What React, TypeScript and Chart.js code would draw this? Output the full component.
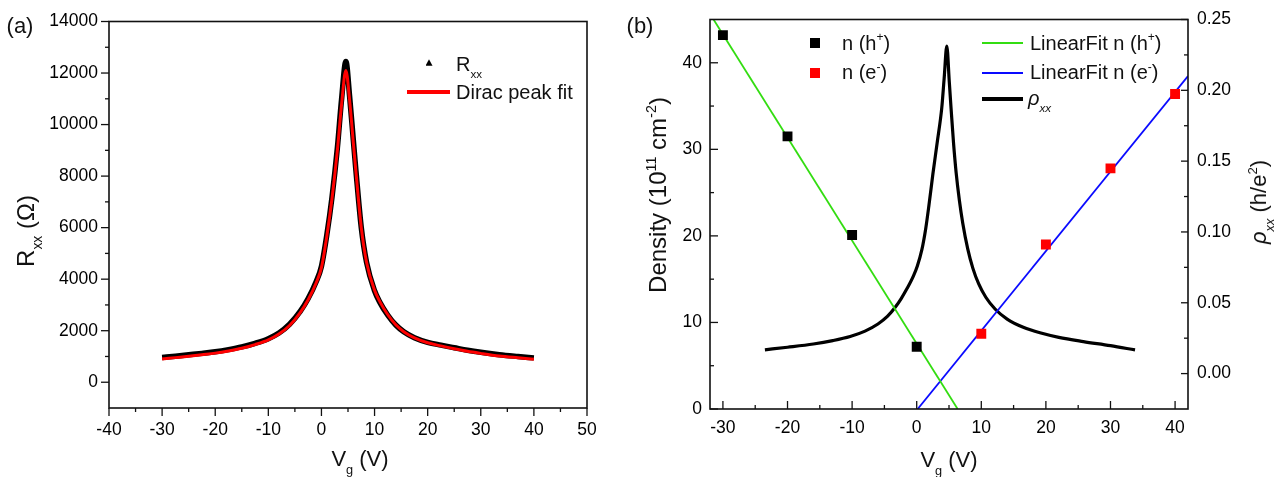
import React, { useEffect, useRef } from 'react';
import { Chart, registerables } from 'chart.js';

Chart.register(...registerables);

const FONT = "'Liberation Sans', Arial, sans-serif";

// ---------- Panel (a) data ----------
const vgA = [-30, -27.5, -25, -22.5, -20, -17.5, -15, -12.5, -10, -8, -6, -4, -2.5, -1, 0, 1, 2, 3, 3.8, 4.6, 5.3, 6, 6.5, 7.5, 8.5, 10, 11, 12.5, 14, 15.5, 17.5, 20, 22.5, 25, 27.5, 30, 33.5, 37, 40];
const rxxMeasured = [960, 1010, 1065, 1120, 1180, 1265, 1370, 1510, 1690, 1910, 2250, 2750, 3250, 3900, 4500, 5700, 7200, 9100, 11000, 12450, 11100, 9400, 8200, 6000, 4650, 3550, 3100, 2600, 2220, 1960, 1730, 1550, 1440, 1340, 1240, 1160, 1070, 1000, 945];
const rxxFit = [900, 955, 1010, 1070, 1130, 1215, 1320, 1460, 1640, 1870, 2200, 2700, 3200, 3850, 4450, 5650, 7150, 9000, 10800, 12100, 10950, 9300, 8150, 6000, 4650, 3570, 3130, 2620, 2230, 1960, 1720, 1530, 1410, 1300, 1200, 1120, 1020, 950, 895];
const xTicksA = [-40, -30, -20, -10, 0, 10, 20, 30, 40, 50];
const xMinorA = [-35, -25, -15, -5, 5, 15, 25, 35, 45];
const yTicksA = [0, 2000, 4000, 6000, 8000, 10000, 12000, 14000];
const yMinorA = [1000, 3000, 5000, 7000, 9000, 11000, 13000];

// ---------- Panel (b) data ----------
const vgHoles = [-30, -20, -10, 0];
const densHoles = [43.2, 31.5, 20.1, 7.2];
const vgElectrons = [10, 20, 30, 40];
const densElectrons = [8.7, 19.0, 27.8, 36.4];
const fitHolesX = [-31.45, 6.34];
const fitHolesY = [45, 0];
const fitElecX = [0.15, 42];
const fitElecY = [0, 38.47];
const vgRho = [-23.5, -20, -16, -13, -10.3, -8, -6, -4.5, -3.3, -2.4, -1.5, -0.5, 0.1, 0.8, 1.4, 1.9, 2.5, 3.2, 3.88, 4.25, 4.66, 5.05, 5.32, 5.7, 6.1, 6.6, 7.13, 7.9, 8.7, 9.6, 10.7, 12.13, 14, 16.5, 19.08, 22, 25.8, 30, 33.8];
const rhoXX = [0.0168, 0.0186, 0.0209, 0.0233, 0.0262, 0.03, 0.035, 0.0405, 0.047, 0.053, 0.06, 0.069, 0.076, 0.0875, 0.1025, 0.119, 0.1407, 0.164, 0.1876, 0.2085, 0.2312, 0.2056, 0.1872, 0.1629, 0.1421, 0.1226, 0.1062, 0.0881, 0.0743, 0.0633, 0.0539, 0.0456, 0.0385, 0.0327, 0.0288, 0.0256, 0.0226, 0.0197, 0.0167];
const xTicksB = [-30, -20, -10, 0, 10, 20, 30, 40];
const xMinorB = [-25, -15, -5, 5, 15, 25, 35];
const yTicksB = [0, 10, 20, 30, 40];
const yMinorB = [5, 15, 25, 35];
const y2TicksB = [0, 0.05, 0.1, 0.15, 0.2, 0.25];
const y2MinorB = [0.025, 0.075, 0.125, 0.175, 0.225];

const pts = (xs: number[], ys: number[]) => xs.map((x, i) => ({ x, y: ys[i] }));

type TickSpec = { id: string; side: 'left' | 'right' | 'bottom'; major: number[]; minor: number[]; inward: boolean; majorLen: number; minorLen: number };

function framePlugin(specs: TickSpec[], lw: number) {
  return {
    id: 'frameTicks',
    afterDraw(chart: any) {
      const { ctx, chartArea: a } = chart;
      ctx.save();
      ctx.strokeStyle = '#111';
      ctx.lineWidth = lw;
      ctx.strokeRect(a.left, a.top, a.right - a.left, a.bottom - a.top);
      ctx.lineWidth = 1.3;
      for (const s of specs) {
        const sc = chart.scales[s.id];
        const draw = (v: number, len: number) => {
          const p = sc.getPixelForValue(v);
          ctx.beginPath();
          if (s.side === 'bottom') {
            ctx.moveTo(p, a.bottom);
            ctx.lineTo(p, a.bottom + (s.inward ? -len : len));
          } else if (s.side === 'left') {
            ctx.moveTo(a.left, p);
            ctx.lineTo(a.left + (s.inward ? len : -len), p);
          } else {
            ctx.moveTo(a.right, p);
            ctx.lineTo(a.right + (s.inward ? -len : len), p);
          }
          ctx.stroke();
        };
        s.major.forEach((v) => draw(v, s.majorLen));
        s.minor.forEach((v) => draw(v, s.minorLen));
      }
      ctx.restore();
    },
  };
}

const tickFont = { family: FONT, size: 17.5 };

function linScale(opts: any) {
  const { min, max, ticks, padding, size, position, fmt } = opts;
  return {
    type: 'linear',
    position,
    min,
    max,
    grid: { display: false, drawTicks: false, tickLength: 0 },
    border: { display: false },
    ticks: {
      font: tickFont,
      color: '#000',
      padding,
      maxRotation: 0,
      autoSkip: false,
      callback: fmt || ((v: any) => String(v)),
    },
    afterBuildTicks: (s: any) => {
      s.ticks = ticks.map((v: number) => ({ value: v }));
    },
    afterFit: (s: any) => {
      if (position === 'bottom') s.height = size;
      else s.width = size;
    },
  };
}

function configA(): any {
  return {
    type: 'scatter',
    data: {
      datasets: [
        {
          data: pts(vgA, rxxFit),
          showLine: true,
          borderColor: '#ff0000',
          borderWidth: 3,
          pointRadius: 0,
          cubicInterpolationMode: 'monotone',
        },
        {
          data: pts(vgA, rxxMeasured),
          showLine: true,
          borderColor: '#000',
          borderWidth: 5.5,
          pointRadius: 0,
          cubicInterpolationMode: 'monotone',
        },
      ],
    },
    options: {
      animation: false,
      responsive: false,
      devicePixelRatio: 1,
      layout: { padding: { top: 19, right: 33, left: 0, bottom: 0 } },
      plugins: { legend: { display: false }, tooltip: { enabled: false } },
      scales: {
        x: linScale({ min: -40, max: 50, ticks: xTicksA, padding: 12, size: 69, position: 'bottom' }),
        y: linScale({ min: -1000, max: 14000, ticks: yTicksA, padding: 11, size: 109, position: 'left' }),
      },
    },
    plugins: [
      framePlugin(
        [
          { id: 'x', side: 'bottom', major: xTicksA, minor: xMinorA, inward: false, majorLen: 8, minorLen: 4 },
          { id: 'y', side: 'left', major: yTicksA, minor: yMinorA, inward: false, majorLen: 8, minorLen: 4 },
        ],
        1.6
      ),
    ],
  };
}

function configB(): any {
  return {
    type: 'scatter',
    data: {
      datasets: [
        {
          data: pts(vgHoles, densHoles),
          backgroundColor: '#000',
          borderWidth: 0,
          pointStyle: 'rect',
          pointRadius: 7,
          yAxisID: 'y',
        },
        {
          data: pts(vgElectrons, densElectrons),
          backgroundColor: '#ff0000',
          borderWidth: 0,
          pointStyle: 'rect',
          pointRadius: 7,
          yAxisID: 'y',
        },
        {
          data: pts(fitHolesX, fitHolesY),
          showLine: true,
          borderColor: '#33dd11',
          borderWidth: 1.8,
          pointRadius: 0,
          yAxisID: 'y',
        },
        {
          data: pts(fitElecX, fitElecY),
          showLine: true,
          borderColor: '#0a0aff',
          borderWidth: 1.8,
          pointRadius: 0,
          yAxisID: 'y',
        },
        {
          data: pts(vgRho, rhoXX),
          showLine: true,
          borderColor: '#000',
          borderWidth: 3.2,
          pointRadius: 0,
          cubicInterpolationMode: 'monotone',
          yAxisID: 'y2',
        },
      ],
    },
    options: {
      animation: false,
      responsive: false,
      devicePixelRatio: 1,
      layout: { padding: { top: 18, right: 0, left: 0, bottom: 0 } },
      plugins: { legend: { display: false }, tooltip: { enabled: false } },
      scales: {
        x: linScale({ min: -32, max: 42, ticks: xTicksB, padding: 9, size: 68, position: 'bottom' }),
        y: linScale({ min: 0, max: 45, ticks: yTicksB, padding: 8, size: 90, position: 'left' }),
        y2: linScale({
          min: -0.025,
          max: 0.25,
          ticks: y2TicksB,
          padding: 9,
          size: 92,
          position: 'right',
          fmt: (v: any) => Number(v).toFixed(2),
        }),
      },
    },
    plugins: [
      framePlugin(
        [
          { id: 'x', side: 'bottom', major: xTicksB, minor: xMinorB, inward: true, majorLen: 8, minorLen: 4 },
          { id: 'y', side: 'left', major: yTicksB, minor: yMinorB, inward: true, majorLen: 8, minorLen: 4 },
          { id: 'y2', side: 'right', major: y2TicksB, minor: y2MinorB, inward: true, majorLen: 7, minorLen: 4 },
        ],
        1.6
      ),
    ],
  };
}

function Txt(props: any) {
  const { x, y, fs, rot = 0, align = 'center', italic = false, children } = props;
  const tx = align === 'center' ? '-50%' : '0';
  return (
    <div
      style={{
        position: 'absolute',
        left: x,
        top: y,
        fontSize: fs,
        lineHeight: `${fs}px`,
        whiteSpace: 'nowrap',
        fontStyle: italic ? 'italic' : 'normal',
        transform: `translate(${tx},-50%) rotate(${rot}deg)`,
        transformOrigin: align === 'center' ? 'center' : 'left center',
      }}
    >
      {children}
    </div>
  );
}

const Sub = ({ children, it }: any) => (
  <span style={{ fontSize: '0.58em', position: 'relative', top: '0.6em', lineHeight: 0, fontStyle: it ? 'italic' : 'normal' }}>{children}</span>
);
const Sup = ({ children }: any) => (
  <span style={{ fontSize: '0.6em', position: 'relative', top: '-0.7em', lineHeight: 0 }}>{children}</span>
);

const Box = ({ x, y, w, h, color, clip }: any) => (
  <div style={{ position: 'absolute', left: x - w / 2, top: y - h / 2, width: w, height: h, background: color, clipPath: clip }} />
);

export default function App() {
  const refA = useRef<HTMLCanvasElement>(null);
  const refB = useRef<HTMLCanvasElement>(null);

  useEffect(() => {
    const a = new Chart(refA.current as HTMLCanvasElement, configA());
    const b = new Chart(refB.current as HTMLCanvasElement, configB());
    return () => {
      a.destroy();
      b.destroy();
    };
  }, []);

  return (
    <div style={{ position: 'absolute', left: 0, top: 0, width: 1280, height: 477, background: '#fff', fontFamily: FONT, color: '#111', overflow: 'hidden' }}>
      <canvas ref={refA} width={620} height={477} style={{ position: 'absolute', left: 0, top: 0 }} />
      <canvas ref={refB} width={660} height={477} style={{ position: 'absolute', left: 620, top: 0 }} />

      {/* panel labels */}
      <Txt x={20} y={25.6} fs={22}>(a)</Txt>
      <Txt x={640} y={25.6} fs={22}>(b)</Txt>

      {/* panel (a) titles */}
      <Txt x={26} y={231} fs={24} rot={-90}>
        R<Sub>xx</Sub> (Ω)
      </Txt>
      <Txt x={360} y={459} fs={22}>
        V<Sub>g</Sub> (V)
      </Txt>

      {/* panel (a) legend */}
      <Box x={429} y={62.5} w={7} h={6.5} color="#000" clip="polygon(50% 0, 100% 100%, 0 100%)" />
      <Txt x={456} y={64} fs={20} align="left">
        R<Sub>xx</Sub>
      </Txt>
      <Box x={428.5} y={92} w={43} h={4} color="#ff0000" />
      <Txt x={456} y={91.5} fs={20} align="left">
        Dirac peak fit
      </Txt>

      {/* panel (b) titles */}
      <Txt x={658} y={195} fs={24} rot={-90}>
        Density (10<Sup>11</Sup> cm<Sup>-2</Sup>)
      </Txt>
      <Txt x={1259} y={202} fs={22} rot={-90}>
        <i>ρ</i>
        <Sub it>xx</Sub> (h/e<Sup>2</Sup>)
      </Txt>
      <Txt x={949} y={460} fs={22}>
        V<Sub>g</Sub> (V)
      </Txt>

      {/* panel (b) legend */}
      <Box x={815} y={42.7} w={10} h={10} color="#000" />
      <Txt x={842} y={42.5} fs={20} align="left">
        n (h<Sup>+</Sup>)
      </Txt>
      <Box x={815} y={72.5} w={10} h={10} color="#ff0000" />
      <Txt x={842} y={72.2} fs={20} align="left">
        n (e<Sup>-</Sup>)
      </Txt>
      <Box x={1002.5} y={43.3} w={41} h={2} color="#33dd11" />
      <Txt x={1030} y={42.5} fs={20} align="left">
        LinearFit n (h<Sup>+</Sup>)
      </Txt>
      <Box x={1002.5} y={72.7} w={41} h={2} color="#0a0aff" />
      <Txt x={1030} y={72.2} fs={20} align="left">
        LinearFit n (e<Sup>-</Sup>)
      </Txt>
      <Box x={1002.5} y={99} w={41} h={4} color="#000" />
      <Txt x={1028} y={98.2} fs={20} align="left">
        <i>ρ</i>
        <Sub it>xx</Sub>
      </Txt>
    </div>
  );
}
